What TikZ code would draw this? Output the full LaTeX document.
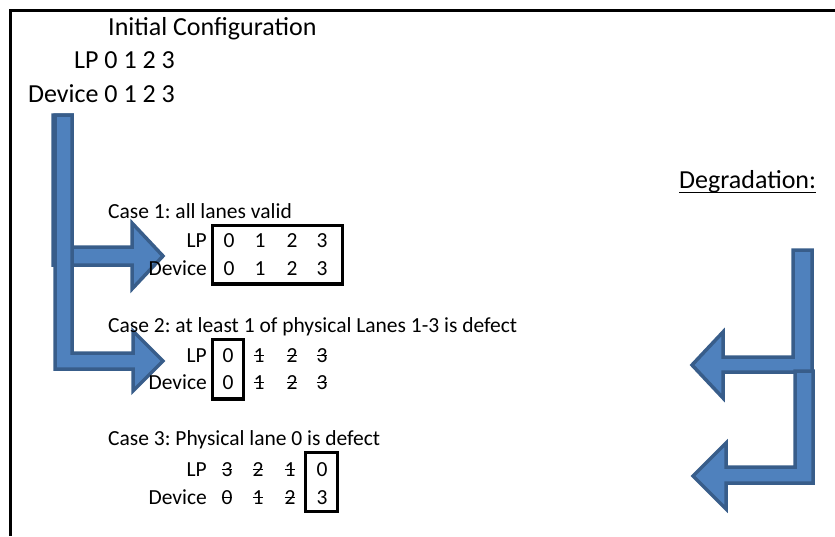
\documentclass[tikz,border=0pt]{standalone}
\usepackage{fontspec}
\setmainfont{Carlito}
\frenchspacing
\newcommand\strk[1]{\sbox0{#1}\rlap{\usebox0}\rule[0.28em]{\wd0}{0.06em}}
\begin{document}
\begin{tikzpicture}[x=1pt,y=-1pt,
  big/.style={inner sep=0pt,font=\fontsize{26}{30}\selectfont},
  small/.style={inner sep=0pt,font=\fontsize{21.5}{25}\selectfont},
  dig/.style={small,anchor=base},
  lab/.style={small,anchor=base east},
  selbox/.style={draw=black,line width=3.2pt},
  bent/.style={fill={rgb,255:red,79;green,129;blue,189},draw={rgb,255:red,56;green,93;blue,138},line width=3.5pt,line join=miter}]
\useasboundingbox (0,0) rectangle (835,536);
\draw[line width=3pt] (835,10.5) -- (10.5,10.5) -- (10.5,536);

% main texts
\node[big,anchor=base west] (title) at (108,35) {Initial Configuration};
\node[big,anchor=base east] (lp0) at (175,68) {LP 0 1 2 3};
\node[big,anchor=base east] (dev0) at (175,102) {Device 0 1 2 3};
\node[big,anchor=base west] (deg) at (679,188) {Degradation:};
\draw[line width=1.3pt] ([yshift=-4.5pt]deg.base west) -- ([yshift=-4.5pt]deg.base east);

% left bent arrows
\filldraw[bent] (53,115) -- (72,115) -- (72,247) -- (132,247) -- (132,223) -- (163,256) -- (132,289) -- (132,265) -- (53,265) -- cycle;
\filldraw[bent] (55,115) -- (72,115) -- (72,353) -- (133,353) -- (133,331) -- (163,361) -- (133,391) -- (133,369) -- (55,369) -- cycle;

% right bent arrows
\filldraw[bent] (812,250) -- (793,250) -- (793,357) -- (723,357) -- (723,332) -- (692,365) -- (723,398) -- (723,372) -- (812,372) -- cycle;
\filldraw[bent] (813,371) -- (795,371) -- (795,467) -- (726,467) -- (726,443) -- (693,476) -- (726,509) -- (726,483) -- (813,483) -- cycle;

% Case 1
\node[small,anchor=base west] (c1) at (108,218) {Case 1: all lanes valid};
\node[lab] (c1lp) at (207,247) {LP};
\node[lab] (c1dev) at (207,275) {Device};
\node[dig] (c1a0) at (229,247) {0};
\node[dig] (c1a1) at (260,247) {1};
\node[dig] (c1a2) at (292,247) {2};
\node[dig] (c1a3) at (322,247) {3};
\node[dig] (c1b0) at (229,275) {0};
\node[dig] (c1b1) at (260,275) {1};
\node[dig] (c1b2) at (292,275) {2};
\node[dig] (c1b3) at (322,275) {3};
\draw[selbox] (212.5,225.5) rectangle (342.5,284);

% Case 2
\node[small,anchor=base west] (c2) at (108,332) {Case 2: at least 1 of physical Lanes 1-3 is defect};
\node[lab] (c2lp) at (207,362) {LP};
\node[lab] (c2dev) at (207,389) {Device};
\node[dig] (c2a0) at (228,362) {0};
\node[dig] (c2a1) at (259,362) {\strk{1}};
\node[dig] (c2a2) at (292,362) {\strk{2}};
\node[dig] (c2a3) at (322,362) {\strk{3}};
\node[dig] (c2b0) at (228,389) {0};
\node[dig] (c2b1) at (259,389) {\strk{1}};
\node[dig] (c2b2) at (292,389) {\strk{2}};
\node[dig] (c2b3) at (322,389) {\strk{3}};
\draw[selbox] (212.5,339.5) rectangle (243.5,399);

% Case 3
\node[small,anchor=base west] (c3) at (108,445) {Case 3: Physical lane 0 is defect};
\node[lab] (c3lp) at (207,476) {LP};
\node[lab] (c3dev) at (207,504) {Device};
\node[dig] (c3a0) at (227,476) {\strk{3}};
\node[dig] (c3a1) at (258,476) {\strk{2}};
\node[dig] (c3a2) at (290,476) {\strk{1}};
\node[dig] (c3a3) at (322,476) {0};
\node[dig] (c3b0) at (227,504) {\strk{0}};
\node[dig] (c3b1) at (258,504) {\strk{1}};
\node[dig] (c3b2) at (290,504) {\strk{2}};
\node[dig] (c3b3) at (322,504) {3};
\draw[selbox] (305.5,452.5) rectangle (337.5,511.5);
\end{tikzpicture}
\end{document}
